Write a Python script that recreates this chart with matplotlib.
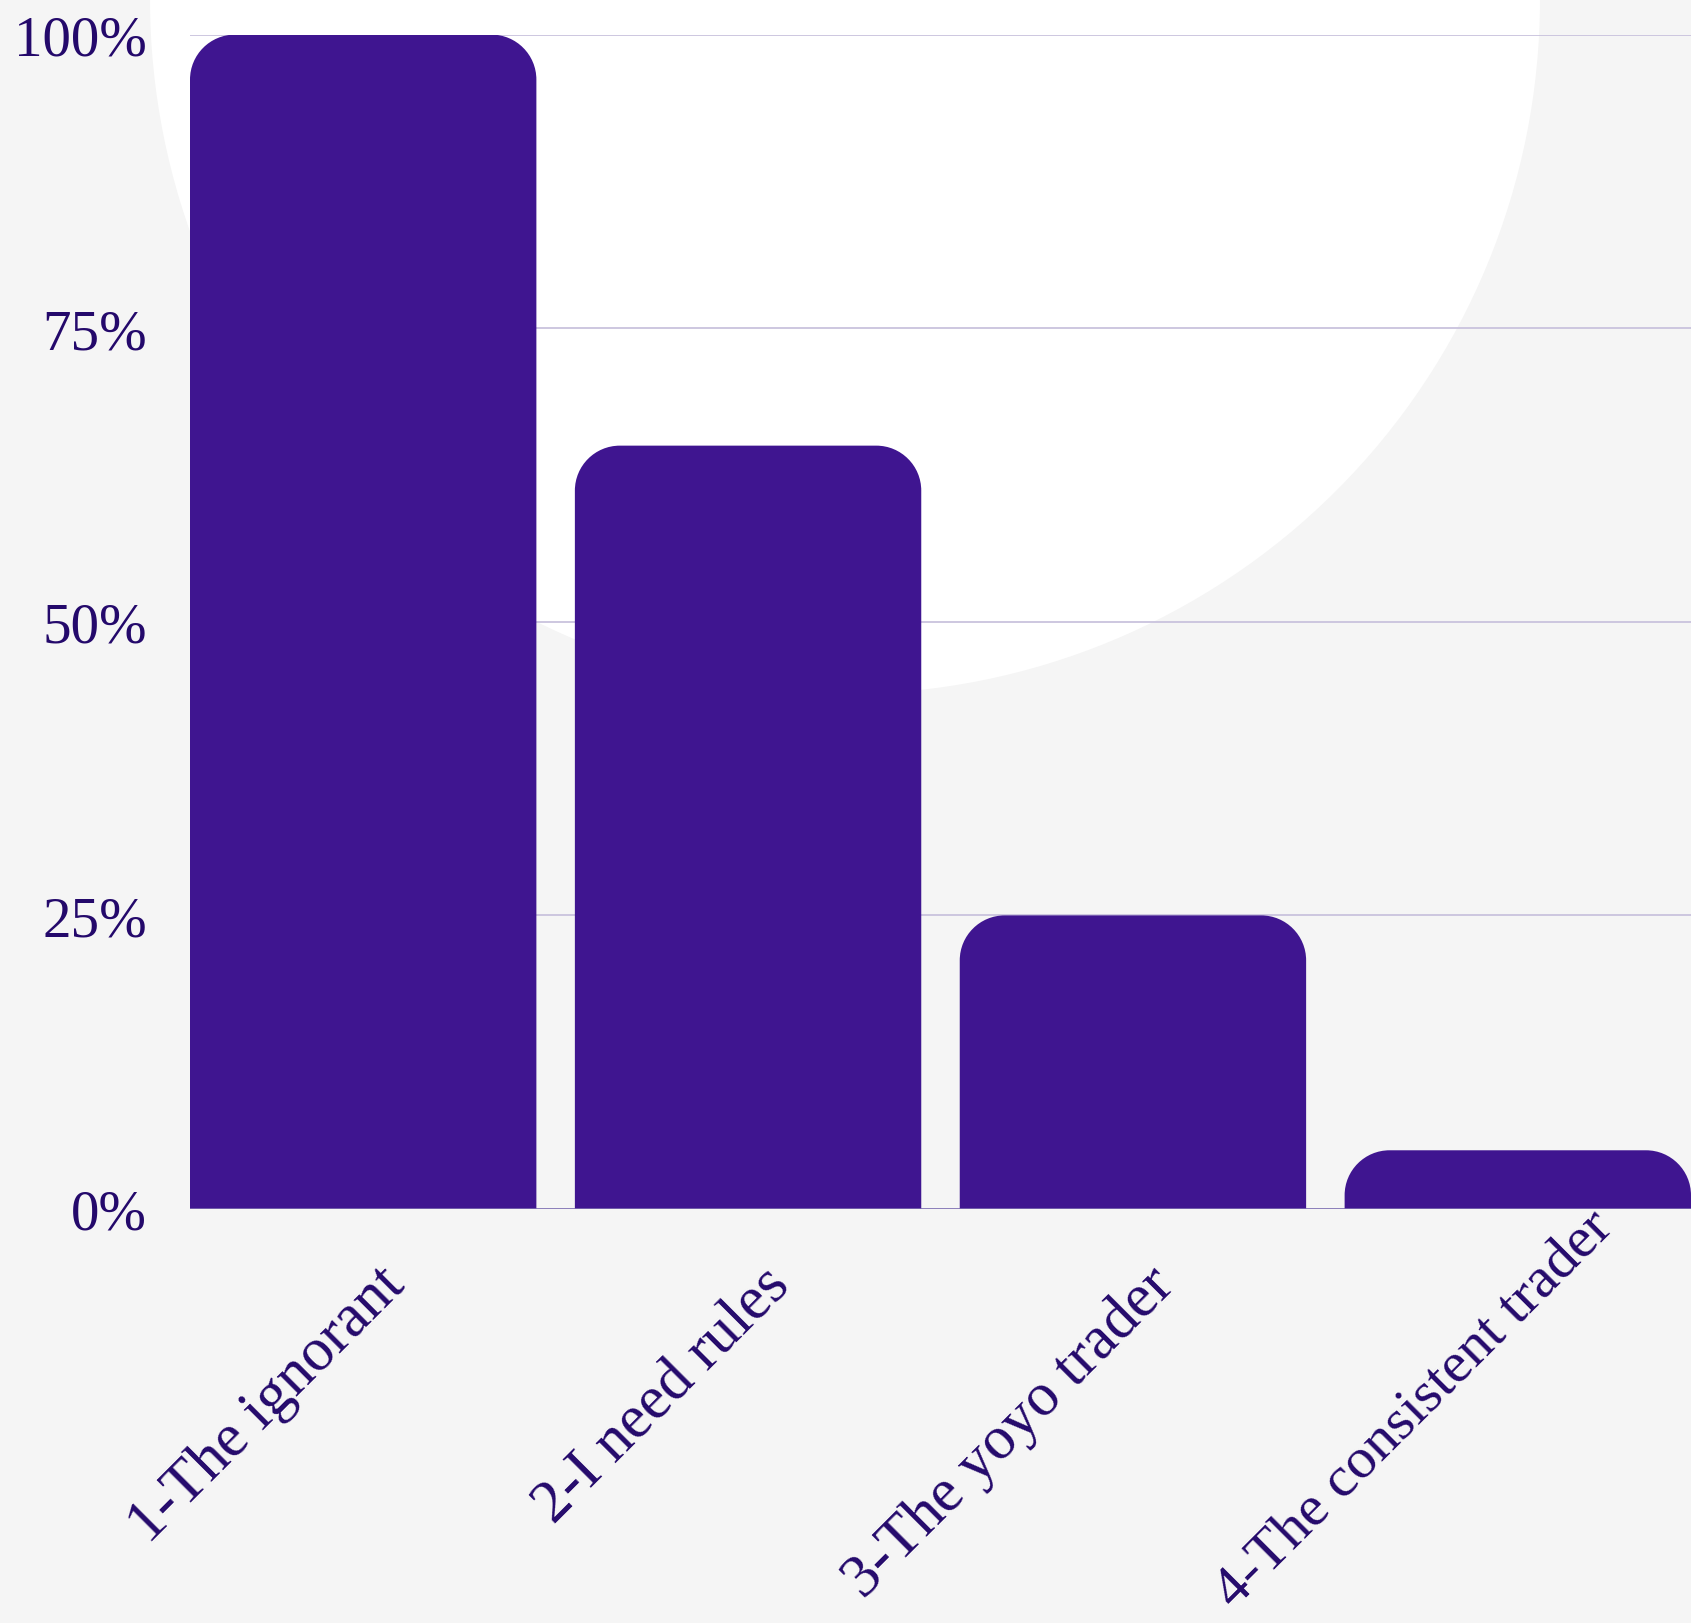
import matplotlib
matplotlib.use("Agg")
import matplotlib.pyplot as plt
from matplotlib.path import Path
from matplotlib.patches import PathPatch, Ellipse
from matplotlib.transforms import ScaledTranslation
import numpy as np

# ---- data ----
categories = ["1-The ignorant", "2-I need rules", "3-The yoyo trader", "4-The consistent trader"]
values = [100, 65, 25, 5]
y_ticks = [0, 25, 50, 75, 100]
y_tick_labels = ["0%", "25%", "50%", "75%", "100%"]

BG = "#f5f5f5"
BAR = "#3f1590"
TXT = "#24096b"
GRID = "#c9c3dd"
BASE = "#7a6ab0"

W, H = 1691, 1624
fig = plt.figure(figsize=(W / 100, H / 100), dpi=100, facecolor=BG)

left_px, right_px, top_px, bot_px = 190, 1691, 35.6, 1210
ax = fig.add_axes([left_px / W, (H - bot_px) / H, (right_px - left_px) / W, (bot_px - top_px) / H])
ax.patch.set_alpha(0)

# decorative white circle in the background
circ = Ellipse((845 / W, 1.0), 2 * 695 / W, 2 * 695 / H, transform=fig.transFigure,
               facecolor="white", edgecolor="none", zorder=0, clip_on=False)
ax.add_artist(circ)

x = np.arange(len(categories))
bar_w = 0.9
bars = ax.bar(x, values, width=bar_w, color=BAR, zorder=3)
ax.set_xlim(-0.45, len(categories) - 1 + 0.45)
ax.set_ylim(0, 100)

# replace rectangles with top-rounded shapes
px_x = (right_px - left_px) / (ax.get_xlim()[1] - ax.get_xlim()[0])
px_y = (bot_px - top_px) / (ax.get_ylim()[1] - ax.get_ylim()[0])
r_px = 45
k = 0.5523
for b in bars:
    x0, w, h = b.get_x(), b.get_width(), b.get_height()
    rx, ry = r_px / px_x, min(r_px / px_y, h)
    verts = [
        (x0, 0), (x0, h - ry),
        (x0, h - ry + k * ry), (x0 + rx - k * rx, h), (x0 + rx, h),
        (x0 + w - rx, h),
        (x0 + w - rx + k * rx, h), (x0 + w, h - ry + k * ry), (x0 + w, h - ry),
        (x0 + w, 0), (x0, 0),
    ]
    codes = [Path.MOVETO, Path.LINETO,
             Path.CURVE4, Path.CURVE4, Path.CURVE4,
             Path.LINETO,
             Path.CURVE4, Path.CURVE4, Path.CURVE4,
             Path.LINETO, Path.CLOSEPOLY]
    pp = PathPatch(Path(verts, codes), facecolor=BAR, edgecolor="none", zorder=3)
    b.set_visible(False)
    ax.add_patch(pp)

# grid
for yv in y_ticks[1:]:
    ax.axhline(yv, color=GRID, lw=1.3, zorder=1)
ax.axhline(0, color=BASE, lw=1.2, zorder=4)

for s in ax.spines.values():
    s.set_visible(False)
ax.xaxis.set_zorder(5)

font = "Liberation Serif"
ax.set_yticks(y_ticks)
ax.set_yticklabels(y_tick_labels, fontsize=41, color=TXT, family=font)
ax.tick_params(axis="y", length=0, pad=31)
ax.set_xticks(x)
ax.set_xticklabels(categories, fontsize=44, color=TXT, family=font,
                   rotation=45, ha="right", va="top", rotation_mode="anchor")
ax.tick_params(axis="x", length=0, pad=34)

lbls = ax.get_xticklabels()
for i, lb in enumerate(lbls):
    dx, dy = 0.13, 0.0
    if i == len(lbls) - 1:
        # the last label is pushed along its direction so it fits on the canvas
        lb.set_fontsize(42)
        dx += 0.55
        dy += 0.56
    lb.set_transform(lb.get_transform() + ScaledTranslation(dx, dy, fig.dpi_scale_trans))

fig.savefig("out.png", dpi=100, facecolor=BG)
